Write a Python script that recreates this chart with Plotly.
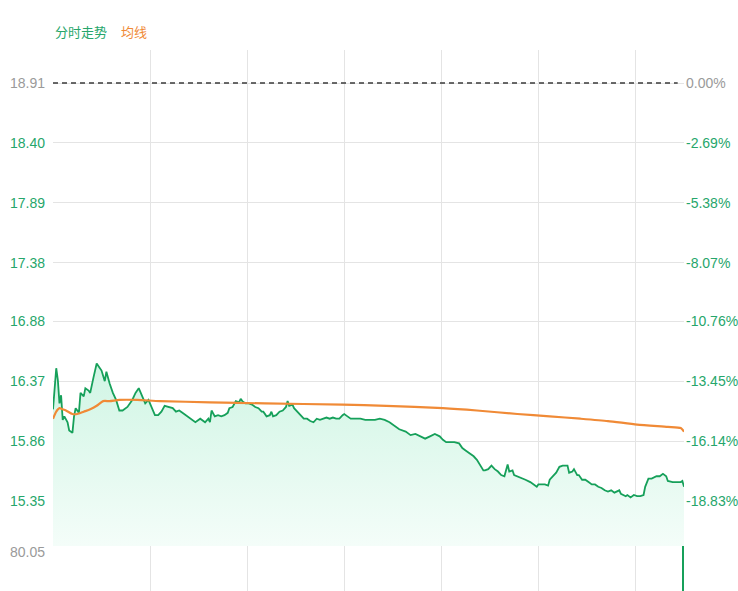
import plotly.graph_objects as go

# ---------------- data ----------------
PREV_CLOSE = 18.91

minutes = [0, 2, 3, 4, 5, 6, 7, 9, 10, 12, 13, 14, 16, 17, 19, 20, 22, 23, 25, 27, 29, 30, 32, 33, 35, 37, 39, 41, 43, 46,
           49, 51, 53, 55, 57, 59, 61, 63, 65, 67, 69, 72, 74, 76, 78, 80, 82, 84, 86, 88, 91, 94, 96, 97, 98, 100, 102,
           104, 106, 108, 109, 111, 113, 115, 116, 117, 119, 121, 123, 125, 127, 129, 130, 132, 134, 135, 136, 138, 140,
           142, 144, 145, 146, 148, 149, 151, 153, 155, 157, 159, 161, 163, 165, 167, 169, 171, 173, 175, 177, 179, 180,
           182, 184, 187, 190, 193, 196, 199, 202, 205, 208, 211, 214, 218, 221, 224, 227, 230, 233, 236, 239, 241, 243,
           245, 248, 251, 253, 255, 257, 259, 260, 262, 264, 266, 267, 269, 271, 273, 275, 277, 279, 281, 282, 284, 285,
           287, 290, 292, 295, 297, 299, 300, 302, 304, 306, 307, 309, 311, 313, 315, 318, 319, 321, 322, 324, 325, 327,
           329, 331, 333, 335, 337, 339, 341, 343, 345, 347, 350, 351, 354, 355, 357, 359, 361, 363, 365, 366, 368, 370,
           373, 375, 377, 379, 380, 383, 386, 388, 389, 390]

prices = [16.13, 16.48, 16.38, 16.18, 16.25, 16.04, 16.07, 16.02, 15.95, 15.93, 16.07, 16.14, 16.10, 16.27, 16.24, 16.31,
          16.29, 16.27, 16.40, 16.52, 16.48, 16.46, 16.37, 16.45, 16.35, 16.27, 16.21, 16.12, 16.12, 16.15, 16.21, 16.27,
          16.31, 16.24, 16.18, 16.21, 16.14, 16.08, 16.08, 16.11, 16.16, 16.15, 16.14, 16.11, 16.12, 16.10, 16.08, 16.06,
          16.04, 16.02, 16.05, 16.02, 16.05, 16.02, 16.12, 16.07, 16.08, 16.07, 16.08, 16.10, 16.14, 16.15, 16.20, 16.19,
          16.22, 16.20, 16.18, 16.18, 16.17, 16.15, 16.14, 16.11, 16.11, 16.07, 16.08, 16.11, 16.07, 16.08, 16.11, 16.12,
          16.15, 16.20, 16.16, 16.17, 16.14, 16.11, 16.08, 16.05, 16.05, 16.03, 16.02, 16.05, 16.04, 16.05, 16.06, 16.05,
          16.06, 16.05, 16.05, 16.08, 16.09, 16.07, 16.05, 16.05, 16.05, 16.04, 16.04, 16.04, 16.05, 16.04, 16.02, 15.99,
          15.96, 15.94, 15.91, 15.92, 15.90, 15.88, 15.90, 15.92, 15.90, 15.87, 15.85, 15.85, 15.85, 15.84, 15.80, 15.78,
          15.76, 15.74, 15.73, 15.70, 15.66, 15.61, 15.61, 15.62, 15.65, 15.62, 15.60, 15.57, 15.56, 15.66, 15.60, 15.61,
          15.57, 15.56, 15.54, 15.53, 15.51, 15.49, 15.47, 15.49, 15.49, 15.49, 15.48, 15.53, 15.56, 15.59, 15.64, 15.65,
          15.65, 15.59, 15.60, 15.62, 15.57, 15.57, 15.53, 15.53, 15.51, 15.49, 15.49, 15.47, 15.46, 15.44, 15.43, 15.44,
          15.42, 15.44, 15.41, 15.39, 15.40, 15.38, 15.40, 15.39, 15.39, 15.40, 15.47, 15.54, 15.54, 15.56, 15.56, 15.58,
          15.56, 15.52, 15.51, 15.51, 15.51, 15.52, 15.47]

avg_minutes = [0, 2, 4, 6, 8, 12, 15, 19, 23, 27, 31, 35, 41, 52, 66, 97, 131, 179, 206, 241, 262, 287, 307, 326, 343,
               361, 380, 388, 390]
avg_prices = [16.05, 16.11, 16.14, 16.13, 16.12, 16.09, 16.09, 16.11, 16.13, 16.16, 16.20, 16.20, 16.21, 16.21, 16.20,
              16.19, 16.18, 16.17, 16.16, 16.14, 16.12, 16.09, 16.07, 16.05, 16.03, 16.00, 15.98, 15.97, 15.94]

price_ticks = [18.91, 18.40, 17.89, 17.38, 16.88, 16.37, 15.86, 15.35]
pct_labels = ["0.00%", "-2.69%", "-5.38%", "-8.07%", "-10.76%", "-13.45%", "-16.14%", "-18.83%"]

vol_minutes = [390]
volumes = [80.05]
vol_max = 80.05

grid_minutes = [0, 60, 120, 180, 240, 300, 360, 390]

# ---------------- styling ----------------
GREEN_LINE = "#16a05a"
GREEN_TXT = "#26a66b"
ORANGE = "#f08a36"
GRAY_TXT = "#9a9a9a"
GRID = "#e4e4e4"
TICK_FONT = dict(family="Liberation Sans, Arial, sans-serif", size=14)

W, H = 738, 591
L, R, T, B = 53, 54, 50, 0
plot_h = H - T - B
vol_frac = 45 / plot_h

# price<->pixel calibration
px_per_unit = (501 - 83) / (18.91 - 15.349)
main_h = plot_h * (1 - vol_frac)
y_top = PREV_CLOSE + (83 - T) / px_per_unit
y_bot = y_top - main_h / px_per_unit


def col(txt, c):
    return f"<span style='color:{c}'>{txt}</span>"


left_text = [col(f"{v:.2f}", GRAY_TXT if i == 0 else GREEN_TXT) for i, v in enumerate(price_ticks)]
right_text = [col(t, GRAY_TXT if i == 0 else GREEN_TXT) for i, t in enumerate(pct_labels)]

fig = go.Figure()

fig.add_trace(go.Scatter(
    x=minutes, y=prices, mode="lines",
    line=dict(color=GREEN_LINE, width=1.8),
    fill="tozeroy",
    fillgradient=dict(type="vertical",
                      colorscale=[[0, "rgba(244,253,249,1)"], [1, "rgba(208,245,228,1)"]],
                      start=y_bot, stop=max(prices)),
    xaxis="x", yaxis="y", hoverinfo="skip", showlegend=False,
))

fig.add_trace(go.Scatter(
    x=avg_minutes, y=avg_prices, mode="lines",
    line=dict(color=ORANGE, width=2.2, shape="spline", smoothing=0.6),
    xaxis="x", yaxis="y", hoverinfo="skip", showlegend=False,
))

# invisible trace to activate the right-hand percentage axis
fig.add_trace(go.Scatter(x=[0], y=[PREV_CLOSE], mode="markers", marker=dict(opacity=0),
                         xaxis="x", yaxis="y2", hoverinfo="skip", showlegend=False))

fig.add_trace(go.Bar(
    x=vol_minutes, y=volumes, width=2.2, marker=dict(color=GREEN_LINE, line=dict(width=0)),
    xaxis="x2", yaxis="y3", hoverinfo="skip", showlegend=False,
))

fig.add_shape(type="line", xref="x domain", yref="y", x0=0, x1=0.99, y0=PREV_CLOSE, y1=PREV_CLOSE,
              line=dict(color="#3a3a3a", width=1.5, dash="5px,4px"))

xcommon = dict(range=[0, 390], tickvals=grid_minutes, showticklabels=False, showgrid=True,
               gridcolor=GRID, gridwidth=1, zeroline=False, showline=False, ticks="", fixedrange=True)

fig.update_layout(
    width=W, height=H,
    margin=dict(l=L, r=R, t=T, b=B, pad=0),
    paper_bgcolor="white", plot_bgcolor="white",
    bargap=0,
    xaxis=dict(domain=[0, 1], anchor="y", **xcommon),
    xaxis2=dict(domain=[0, 1], anchor="y3", matches="x", **xcommon),
    yaxis=dict(domain=[vol_frac, 1], anchor="x", range=[y_bot, y_top],
               tickvals=price_ticks, ticktext=left_text, tickfont=TICK_FONT,
               showgrid=True, gridcolor=GRID, zeroline=False, ticks="", ticklabelstandoff=7,
               automargin=False),
    yaxis2=dict(overlaying="y", side="right", anchor="x", range=[y_bot, y_top],
                tickvals=price_ticks, ticktext=right_text, tickfont=TICK_FONT,
                showgrid=False, zeroline=False, ticks="", ticklabelstandoff=1, automargin=False),
    yaxis3=dict(domain=[0, vol_frac], anchor="x2", range=[0, vol_max * 1.004],
                tickvals=[vol_max], ticktext=[col(f"{vol_max:.2f}", GRAY_TXT)], tickfont=TICK_FONT,
                showgrid=True, gridcolor=GRID, zeroline=False, ticks="", ticklabelstandoff=7,
                ticklabelshift=6, automargin=False),
    annotations=[
        dict(text="分时走势", xref="paper", yref="paper", x=0, y=1, xanchor="left", yanchor="bottom",
             yshift=7, showarrow=False,
             font=dict(family="Noto Sans CJK SC", size=13, color=GREEN_TXT)),
        dict(text="均线", xref="paper", yref="paper", x=66 / (W - L - R), y=1, xanchor="left", yanchor="bottom",
             yshift=7, showarrow=False,
             font=dict(family="Noto Sans CJK SC", size=13, color=ORANGE)),
    ],
)

fig.write_html("out.html", config={"displayModeBar": False, "staticPlot": True},
               post_script="document.body.style.margin='0px';")
